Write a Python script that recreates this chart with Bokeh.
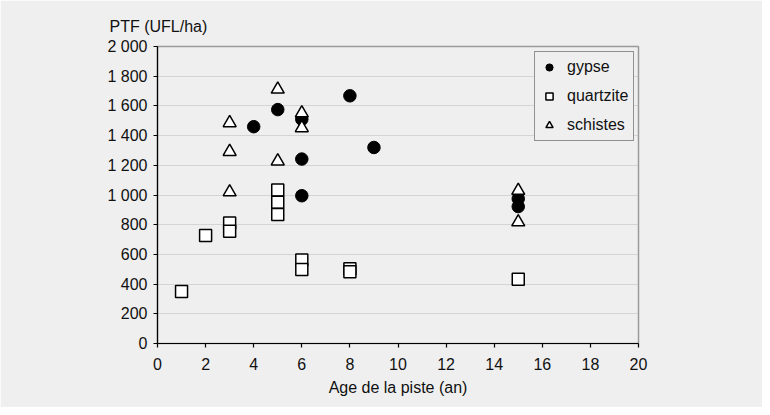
from bokeh.plotting import figure
from bokeh.models import Range1d, Legend, LegendItem, FixedTicker, Title
from bokeh.embed import file_html
from bokeh.resources import INLINE

# data
gypse_x = [4, 5, 6, 6, 6, 8, 9, 15, 15]
gypse_y = [1460, 1575, 1510, 1242, 995, 1668, 1320, 975, 922]
quartzite_x = [1, 2, 3, 3, 5, 5, 5, 6, 6, 8, 8, 15]
quartzite_y = [350, 727, 812, 756, 1034, 951, 868, 563, 499, 504, 484, 432]
schistes_x = [3, 3, 3, 5, 5, 6, 6, 15, 15]
schistes_y = [1485, 1292, 1020, 1712, 1228, 1552, 1452, 1030, 818]

x_ticks = [0, 2, 4, 6, 8, 10, 12, 14, 16, 18, 20]
y_ticks = [0, 200, 400, 600, 800, 1000, 1200, 1400, 1600, 1800, 2000]
y_tick_labels = ["0", "200", "400", "600", "800", "1 000", "1 200", "1 400", "1 600", "1 800", "2 000"]

series_names = ["gypse", "quartzite", "schistes"]
x_title = "Age de la piste (an)"
y_title = "PTF (UFL/ha)"

BG = "#efefef"
FONT = "Liberation Sans"
FS = "16px"

p = figure(width=762, height=407, output_backend="svg", toolbar_location=None,
           x_range=Range1d(0, 20), y_range=Range1d(0, 2000),
           min_border_left=157, min_border_right=124, min_border_top=46, min_border_bottom=64)
p.background_fill_color = BG
p.border_fill_color = BG
p.outline_line_color = "#9a9a9a"
p.outline_line_width = 1.5

p.xgrid.visible = False
p.ygrid.grid_line_color = "#b8b8b8"
p.ygrid.grid_line_dash = "1 1"
p.ygrid.grid_line_width = 1

for ax in (p.xaxis[0], p.yaxis[0]):
    ax.axis_line_color = "#000000"
    ax.axis_line_width = 1.2
    ax.major_tick_line_color = "#000000"
    ax.major_tick_line_width = 1.2
    ax.major_tick_out = 4
    ax.major_tick_in = 0
    ax.minor_tick_line_color = None
    ax.major_label_text_font = FONT
    ax.major_label_text_font_size = FS
    ax.major_label_text_color = "#111111"

p.xaxis.ticker = FixedTicker(ticks=x_ticks)
p.yaxis.ticker = FixedTicker(ticks=y_ticks)
p.yaxis.major_label_overrides = {t: l for t, l in zip(y_ticks, y_tick_labels)}
p.xaxis.major_label_standoff = 10
p.yaxis.major_label_standoff = 6

p.xaxis.axis_label = x_title
p.xaxis.axis_label_text_font = FONT
p.xaxis.axis_label_text_font_size = FS
p.xaxis.axis_label_text_font_style = "normal"
p.xaxis.axis_label_text_color = "#111111"
p.xaxis.axis_label_standoff = 6

r_g = p.scatter(gypse_x, gypse_y, marker="circle", size=12.5, fill_color="black", line_color="black")
r_q = p.scatter(quartzite_x, quartzite_y, marker="square", size=12, fill_color="white",
                line_color="black", line_width=1.5)
r_s = p.scatter(schistes_x, schistes_y, marker="triangle", size=13, fill_color="white",
                line_color="black", line_width=1.5)

p.add_layout(Title(text=y_title, align="left", offset=-48, standoff=24,
                   text_font=FONT, text_font_size=FS, text_font_style="normal",
                   text_color="#111111"), "above")

legend = Legend(items=[LegendItem(label=series_names[0], renderers=[r_g]),
                       LegendItem(label=series_names[1], renderers=[r_q]),
                       LegendItem(label=series_names[2], renderers=[r_s])],
                location=(377, 202))
legend.border_line_color = "#333333"
legend.border_line_width = 1
legend.background_fill_color = BG
legend.background_fill_alpha = 1
legend.label_text_font = FONT
legend.label_text_font_size = FS
legend.label_text_color = "#111111"
legend.label_height = 20
legend.glyph_height = 20
legend.glyph_width = 18
legend.spacing = 9
legend.padding = 5
legend.label_standoff = 9
legend.margin = 0
p.add_layout(legend)

open("out.html", "w").write(file_html(p, INLINE))
